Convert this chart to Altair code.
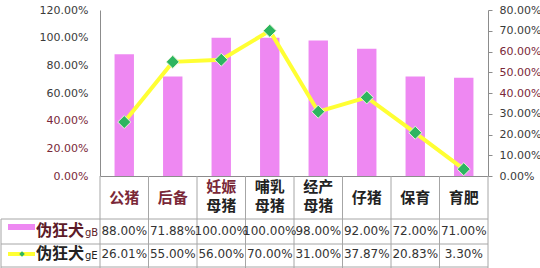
import altair as alt
import pandas as pd

# ---- data ----
cats = ["公猪", "后备", "妊娠母猪", "哺乳母猪", "经产母猪", "仔猪", "保育", "育肥"]
gB = [0.88, 0.7188, 1.00, 1.00, 0.98, 0.92, 0.72, 0.71]
gE = [0.2601, 0.55, 0.56, 0.70, 0.31, 0.3787, 0.2083, 0.033]
left_ticks = [0, 0.2, 0.4, 0.6, 0.8, 1.0, 1.2]
right_ticks = [0, 0.1, 0.2, 0.3, 0.4, 0.5, 0.6, 0.7, 0.8]
series_names = ["伪狂犬", "伪狂犬"]
series_suffix = ["gB", "gE"]

df = pd.DataFrame({
    "cat": cats,
    "gB": gB,
    "gE": gE,
    "line1": [c if len(c) <= 2 else c[:2] for c in cats],
    "line2": ["" if len(c) <= 2 else c[2:] for c in cats],
    "two": [len(c) > 2 for c in cats],
})

# ---- layout / style ----
W, H = 388, 166
STEP = W / len(cats)
GREY = "#8c8c8c"
MAROON = "#7a2838"
DARK = "#3a3a3a"
PINK = "#EE88F2"
YELLOW = "#FFFF33"
GREEN = "#2DB560"
CJK = "Noto Sans CJK SC"
NUM = "DejaVu Sans"

x_axis = alt.Axis(labels=False, ticks=False, domain=True, domainColor=GREY,
                  grid=False, title=None)
x_enc = alt.X("cat:N", sort=cats,
              scale=alt.Scale(paddingInner=0.6, paddingOuter=0.3),
              axis=x_axis)

base = alt.Chart(df)

bars = base.mark_bar(color=PINK).encode(
    x=x_enc,
    y=alt.Y("gB:Q", scale=alt.Scale(domain=[0, 1.2], nice=False),
            axis=alt.Axis(orient="left", values=left_ticks, format=".2%",
                          grid=False, ticks=False, tickSize=0, labelPadding=12,
                          domainColor=GREY, labelFont=NUM, labelFontSize=11,
                          title=None,
                          labelColor={"condition": {"test": "datum.value < 0.5",
                                                    "value": MAROON},
                                      "value": DARK})),
)

y_right = alt.Y("gE:Q", scale=alt.Scale(domain=[0, 0.8], nice=False),
                axis=alt.Axis(orient="right", values=right_ticks, format=".2%",
                              grid=False, ticks=True, tickSize=4, tickColor=GREY,
                              labelPadding=7, domainColor=GREY, labelFont=NUM,
                              labelFontSize=11, title=None,
                              labelColor={"condition": {"test": "datum.value > 0.35 && datum.value < 0.65",
                                                        "value": MAROON},
                                          "value": DARK}))

line = base.mark_line(color=YELLOW, strokeWidth=4).encode(x=x_enc, y=y_right)
pts = base.mark_point(shape="diamond", filled=True, size=170, color=GREEN,
                      stroke="#E6F5D8", strokeWidth=1, opacity=1).encode(x=x_enc, y=y_right)
line_layer = alt.layer(line, pts)

# ---- data table below plot ----
cat_color = alt.condition(alt.FieldOneOfPredicate(field="cat", oneOf=["公猪", "后备", "妊娠母猪"]),
                          alt.value(MAROON), alt.value("#222222"))

cat_single = base.transform_filter("!datum.two").mark_text(
    font=CJK, fontSize=15, fontWeight="bold", baseline="middle").encode(
    x=x_enc, y=alt.value(188), text="line1:N", color=cat_color)
cat_top = base.transform_filter("datum.two").mark_text(
    font=CJK, fontSize=15, fontWeight="bold", baseline="middle", lineHeight=15).encode(
    x=x_enc, y=alt.value(177), text="line1:N", color=cat_color)
cat_bot = base.transform_filter("datum.two").mark_text(
    font=CJK, fontSize=15, fontWeight="bold", baseline="middle", lineHeight=15,
    color="#222222").encode(
    x=x_enc, y=alt.value(196), text="line2:N")

val_gB = base.mark_text(font=NUM, fontSize=12, baseline="middle", color="#333333").encode(
    x=x_enc, y=alt.value(221), text=alt.Text("gB:Q", format=".2%"))
val_gE = base.mark_text(font=NUM, fontSize=12, baseline="middle", color="#333333").encode(
    x=x_enc, y=alt.value(244), text=alt.Text("gE:Q", format=".2%"))

# table borders
vlines = base.mark_rule(color="#a6a6a6", strokeWidth=1, xOffset=-STEP / 2).encode(
    x=x_enc, y=alt.value(166), y2=alt.value(258))
right_edge = base.transform_filter(alt.datum.cat == cats[-1]).mark_rule(
    color="#a6a6a6", strokeWidth=1, xOffset=STEP / 2).encode(
    x=x_enc, y=alt.value(166), y2=alt.value(258))
one = alt.Chart(pd.DataFrame({"k": [0]}))
hrules = alt.layer(*[
    one.mark_rule(color="#a6a6a6", strokeWidth=1).encode(
        x=alt.value(-99), x2=alt.value(W), y=alt.value(yy))
    for yy in (209, 234, 257)
])
left_edge = one.mark_rule(color="#a6a6a6", strokeWidth=1).encode(
    x=alt.value(-99), y=alt.value(209), y2=alt.value(258))

# legend keys in table
key_pink = one.mark_rule(color=PINK, strokeWidth=6).encode(
    x=alt.value(-92), x2=alt.value(-65), y=alt.value(217))
key_yel = one.mark_rule(color=YELLOW, strokeWidth=4).encode(
    x=alt.value(-92), x2=alt.value(-65), y=alt.value(244))
key_dot = one.mark_point(shape="diamond", filled=True, size=30, color=GREEN, opacity=1).encode(
    x=alt.value(-78), y=alt.value(244))
key_texts = []
for i, (yy, col) in enumerate([(221, "#5c1a28"), (244, "#222222")]):
    key_texts.append(one.mark_text(font=CJK, fontSize=16, fontWeight="bold", align="left",
                                   baseline="middle", color=col, text=series_names[i]).encode(
        x=alt.value(-64), y=alt.value(yy)))
    key_texts.append(one.mark_text(font=NUM, fontSize=10, align="left", baseline="middle",
                                   color=col, text=series_suffix[i]).encode(
        x=alt.value(-15), y=alt.value(yy + 2)))

chart = alt.layer(
    bars, line_layer,
    vlines, right_edge, hrules, left_edge,
    cat_single, cat_top, cat_bot, val_gB, val_gE,
    key_pink, key_yel, key_dot, *key_texts,
).resolve_scale(y="independent").properties(
    width=W, height=H,
    autosize=alt.AutoSizeParams(type="none"),
    padding={"left": 100, "top": 10, "right": 52, "bottom": 92},
    background="white",
).configure_view(stroke=None)

chart.save("out.html", embed_options={"renderer": "svg", "actions": False})
